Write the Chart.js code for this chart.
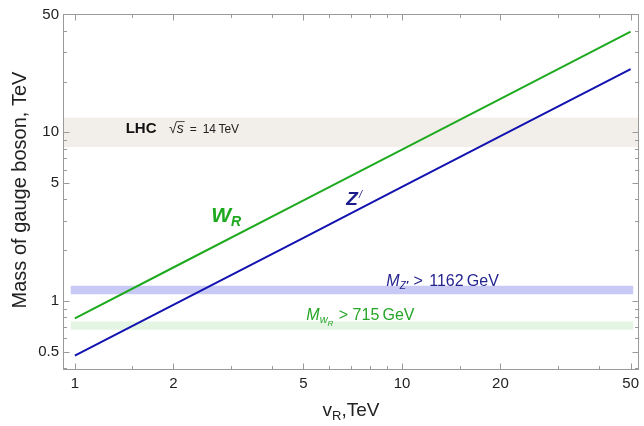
<!DOCTYPE html>
<html>
<head>
<meta charset="utf-8">
<script src="https://cdn.jsdelivr.net/npm/chart.js@4/dist/chart.umd.min.js"></script>
<style>
  html, body { margin: 0; padding: 0; background: #fff; }
  #wrap { width: 644px; height: 426px; }
</style>
</head>
<body>
<div id="wrap"><canvas id="chart" width="644" height="426"></canvas></div>
<script>
const vR = [1, 2, 5, 10, 20, 50];
const massWR = [0.79, 1.58, 3.95, 7.9, 15.8, 39.5];
const massZp = [0.475, 0.95, 2.37, 4.75, 9.5, 23.7];

const xTicks = [1, 1.5, 2, 3, 4, 5, 6, 7, 8, 9, 10, 15, 20, 30, 40, 50];
const xLabels = [1, 2, 5, 10, 20, 50];
const yTicks = [0.4, 0.5, 0.6, 0.7, 0.8, 0.9, 1, 2, 3, 4, 5, 6, 7, 8, 9, 10, 20, 30, 40, 50];
const yLabels = [0.5, 1, 5, 10, 50];

const lhcBand = [8.2, 12.2];
const zBand = [1.095, 1.23];
const wBand = [0.675, 0.755];
const boundSpan = [0.97, 51];
const lhcSpan = [0.5, 100];

const FONT = '"Liberation Sans", Arial, sans-serif';
const green = '#1eaa1e';
const blue = '#1212b0';

function toPoints(xs, ys) {
  return xs.map((x, i) => ({ x: x, y: ys[i] }));
}

function band(span, limits, color) {
  return {
    data: [{ x: span[0], y: limits[1] }, { x: span[1], y: limits[1] }],
    fill: { value: limits[0] },
    backgroundColor: color,
    borderWidth: 0,
    pointRadius: 0,
  };
}

// draws a run of text pieces (for sub/superscripts)
function drawParts(ctx, x, y, parts) {
  for (const p of parts) {
    ctx.font = p.font;
    ctx.fillStyle = p.color;
    ctx.fillText(p.t, x, y + (p.dy || 0));
    x += ctx.measureText(p.t).width + (p.dx || 0);
  }
  return x;
}

function partsWidth(ctx, parts) {
  let w = 0;
  for (const p of parts) {
    ctx.font = p.font;
    w += ctx.measureText(p.t).width + (p.dx || 0);
  }
  return w;
}

const frameTicks = {
  id: 'frameTicks',
  afterDatasetsDraw(chart) {
    const { ctx, chartArea: a, scales } = chart;
    const xs = scales.x;
    const ys = scales.y;
    ctx.save();
    ctx.strokeStyle = '#9a9a9a';
    ctx.lineWidth = 1;
    const L = Math.round(a.left) + 0.5;
    const R = Math.round(a.right) - 0.5;
    const T = Math.round(a.top) + 0.5;
    const B = Math.round(a.bottom) - 0.5;
    ctx.strokeRect(L, T, R - L, B - T);
    ctx.beginPath();
    xTicks.forEach((v) => {
      const px = Math.round(xs.getPixelForValue(v)) + 0.5;
      const len = xLabels.includes(v) ? 6 : 3.5;
      ctx.moveTo(px, B); ctx.lineTo(px, B - len);
      ctx.moveTo(px, T); ctx.lineTo(px, T + len);
    });
    yTicks.forEach((v) => {
      const py = Math.round(ys.getPixelForValue(v)) + 0.5;
      const len = yLabels.includes(v) ? 6 : 3.5;
      ctx.moveTo(L, py); ctx.lineTo(L + len, py);
      ctx.moveTo(R, py); ctx.lineTo(R - len, py);
    });
    ctx.stroke();
    ctx.restore();
  },
};

const annotations = {
  id: 'annotations',
  afterDraw(chart) {
    const { ctx, chartArea: a, scales } = chart;
    const xs = scales.x;
    const ys = scales.y;
    const at = (x, y) => [xs.getPixelForValue(x), ys.getPixelForValue(y)];
    ctx.save();
    ctx.textBaseline = 'alphabetic';
    ctx.textAlign = 'left';

    // LHC sqrt(s) = 14 TeV
    let [x0, y0] = at(1.43, 9.9);
    drawParts(ctx, x0, y0, [{ t: 'LHC', font: 'bold 15px ' + FONT, color: '#111' }]);
    [x0, y0] = at(1.94, 9.9);
    ctx.font = '14px ' + FONT;
    ctx.fillStyle = '#222';
    ctx.fillText('\u221A', x0, y0);
    const sx = x0 + ctx.measureText('\u221A').width;
    ctx.font = 'italic 14px ' + FONT;
    const sw = ctx.measureText('s').width;
    ctx.fillText('s', sx, y0);
    ctx.strokeStyle = '#222';
    ctx.lineWidth = 0.8;
    ctx.beginPath();
    ctx.moveTo(sx - 0.5, y0 - 11.5);
    ctx.lineTo(sx + sw + 1, y0 - 11.5);
    ctx.stroke();
    drawParts(ctx, sx + sw + 6, y0, [
      { t: '=', font: '12px ' + FONT, color: '#222', dx: 6 },
      { t: '14\u2009TeV', font: '12px ' + FONT, color: '#222' },
    ]);

    // W_R label
    [x0, y0] = at(2.61, 2.94);
    drawParts(ctx, x0, y0, [
      { t: 'W', font: 'italic bold 21px ' + FONT, color: green },
      { t: 'R', font: 'italic bold 14px ' + FONT, color: green, dy: 4 },
    ]);

    // Z' label
    [x0, y0] = at(6.76, 3.71);
    drawParts(ctx, x0, y0, [
      { t: 'Z', font: 'italic bold 19px ' + FONT, color: '#1c1c8c', dx: 1 },
      { t: '/', font: 'italic 11px ' + FONT, color: '#1c1c8c', dy: -7 },
    ]);

    // M_Z' > 1162 GeV
    [x0, y0] = at(8.96, 1.227);
    drawParts(ctx, x0, y0, [
      { t: 'M', font: 'italic 16px ' + FONT, color: '#24248f' },
      { t: 'Z', font: 'italic 10px ' + FONT, color: '#24248f', dy: 3, dx: 0.5 },
      { t: '\u2032', font: 'bold 11px ' + FONT, color: '#24248f', dy: 3 },
      { t: ' > ', font: '16px ' + FONT, color: '#24248f', dx: 2 },
      { t: '1162\u2009GeV', font: '16px ' + FONT, color: '#24248f' },
    ]);

    // M_wR > 715 GeV
    [x0, y0] = at(5.1, 0.772);
    drawParts(ctx, x0, y0, [
      { t: 'M', font: 'italic 16px ' + FONT, color: '#26a626' },
      { t: 'w', font: 'italic 11px ' + FONT, color: '#26a626', dy: 3 },
      { t: 'R', font: 'italic 8px ' + FONT, color: '#26a626', dy: 6, dx: 1 },
      { t: ' > ', font: '16px ' + FONT, color: '#26a626' },
      { t: '715\u2009GeV', font: '16px ' + FONT, color: '#26a626' },
    ]);

    // axis titles
    const xTitle = [
      { t: 'v', font: '19px ' + FONT, color: '#222' },
      { t: 'R', font: '13px ' + FONT, color: '#222', dy: 4 },
      { t: ',TeV', font: '19px ' + FONT, color: '#222' },
    ];
    const cx = (a.left + a.right) / 2;
    drawParts(ctx, cx - partsWidth(ctx, xTitle) / 2, 416, xTitle);

    ctx.translate(26, (a.top + a.bottom) / 2 - 2);
    ctx.rotate(-Math.PI / 2);
    ctx.textAlign = 'center';
    ctx.font = '20px ' + FONT;
    ctx.fillStyle = '#222';
    ctx.fillText('Mass of gauge boson, TeV', 0, 0);
    ctx.restore();
  },
};

new Chart(document.getElementById('chart'), {
  type: 'line',
  data: {
    datasets: [
      {
        label: 'WR',
        data: toPoints(vR, massWR),
        borderColor: green,
        borderWidth: 2,
        pointRadius: 0,
        fill: false,
      },
      {
        label: 'Zp',
        data: toPoints(vR, massZp),
        borderColor: blue,
        borderWidth: 2,
        pointRadius: 0,
        fill: false,
      },
      band(boundSpan, zBand, '#c9c9f6'),
      band(boundSpan, wBand, '#e4f5e4'),
      band(lhcSpan, lhcBand, '#f2eeea'),
    ],
  },
  options: {
    responsive: false,
    animation: false,
    layout: { padding: { top: 14, right: 2, left: 0, bottom: 0 } },
    plugins: {
      legend: { display: false },
      tooltip: { enabled: false },
    },
    scales: {
      x: {
        type: 'logarithmic',
        min: 0.92,
        max: 53,
        grid: { display: false, drawTicks: false },
        border: { display: false },
        afterBuildTicks: (scale) => {
          scale.ticks = xTicks.map((v) => ({ value: v }));
        },
        afterFit: (scale) => { scale.height = 56; },
        ticks: {
          autoSkip: false,
          maxRotation: 0,
          padding: 5,
          color: '#222',
          font: { family: FONT, size: 15 },
          callback: (value) => (xLabels.includes(value) ? String(value) : ''),
        },
      },
      y: {
        type: 'logarithmic',
        min: 0.39,
        max: 50.3,
        grid: { display: false, drawTicks: false },
        border: { display: false },
        afterBuildTicks: (scale) => {
          scale.ticks = yTicks.map((v) => ({ value: v }));
        },
        afterFit: (scale) => { scale.width = 63; },
        ticks: {
          autoSkip: false,
          padding: 4,
          color: '#222',
          font: { family: FONT, size: 15 },
          callback: (value) => (yLabels.includes(value) ? String(value) : ''),
        },
      },
    },
  },
  plugins: [frameTicks, annotations],
});
</script>
</body>
</html>
